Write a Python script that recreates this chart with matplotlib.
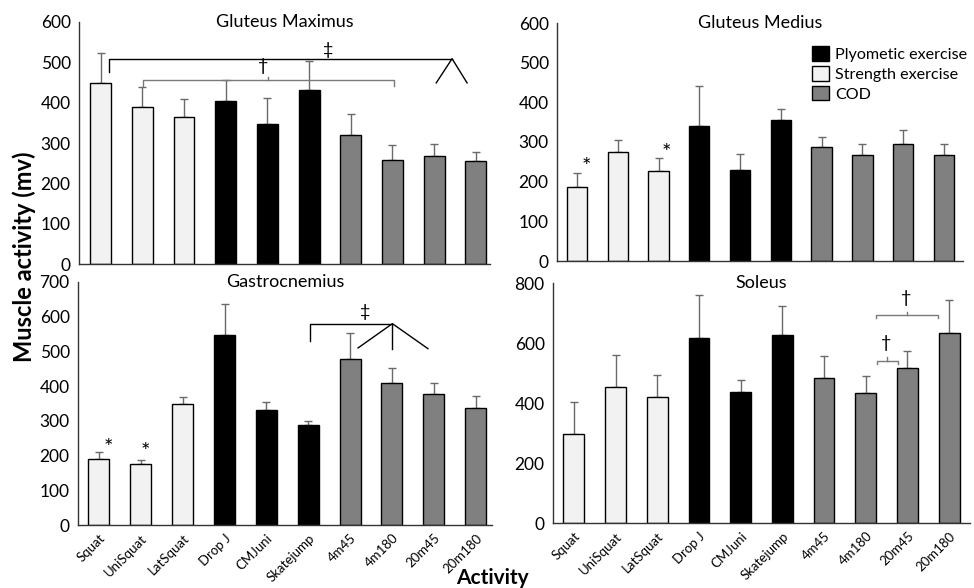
import matplotlib
matplotlib.use('Agg')
import matplotlib.pyplot as plt
import matplotlib.patches as mpatches
import numpy as np

plt.rcParams['font.family'] = ['Lato', 'DejaVu Sans']

activities = ['Squat', 'UniSquat', 'LatSquat', 'Drop J', 'CMJuni', 'Skatejump',
              '4m45', '4m180', '20m45', '20m180']
groups = ['S', 'S', 'S', 'P', 'P', 'P', 'C', 'C', 'C', 'C']
group_colors = {'P': '#000000', 'S': '#f2f2f2', 'C': '#808080'}
group_names = {'P': 'Plyometic exercise', 'S': 'Strength exercise', 'C': 'COD'}

# means and SD (upper error) per muscle
gmax_mean = [450, 389, 365, 403, 347, 432, 321, 258, 267, 255]
gmax_sd = [73, 49, 43, 53, 64, 72, 52, 36, 31, 23]
gmed_mean = [187, 274, 227, 340, 230, 356, 288, 268, 296, 268]
gmed_sd = [34, 31, 32, 102, 40, 27, 24, 27, 33, 26]
gast_mean = [189, 176, 350, 547, 331, 287, 479, 408, 377, 336]
gast_sd = [22, 12, 19, 91, 24, 12, 75, 43, 31, 35]
sol_mean = [298, 454, 421, 618, 437, 628, 483, 434, 516, 633]
sol_sd = [105, 107, 71, 143, 41, 94, 75, 55, 59, 111]

W, H = 974, 588
fig = plt.figure(figsize=(W / 100, H / 100), dpi=100)

def px_axes(l, t, r, b):
    return fig.add_axes([l / W, 1 - b / H, (r - l) / W, (b - t) / H])

ax_gmax = px_axes(79, 22, 490, 264)
ax_gmed = px_axes(557, 23, 963, 261)
ax_gast = px_axes(78, 282, 492, 525)
ax_sol = px_axes(553, 283, 970, 523)

panels = [
    (ax_gmax, gmax_mean, gmax_sd, 'Gluteus Maximus', 600, 100, (-0.52, 9.34), False),
    (ax_gmed, gmed_mean, gmed_sd, 'Gluteus Medius', 600, 100, (-0.49, 9.47), False),
    (ax_gast, gast_mean, gast_sd, 'Gastrocnemius', 700, 100, (-0.5, 9.39), True),
    (ax_sol, sol_mean, sol_sd, 'Soleus', 800, 200, (-0.5, 9.5), True),
]

x = np.arange(len(activities))
cols = [group_colors[g] for g in groups]
for ax, mean, sd, title, ymax, step, xl, show_x in panels:
    ax.bar(x, mean, 0.5, color=cols, edgecolor='black', linewidth=1.0, zorder=2)
    ax.errorbar(x, mean, yerr=[np.zeros(len(sd)), sd], fmt='none', ecolor='#6a6a6a',
                elinewidth=1.0, capsize=3, capthick=1.0, zorder=1)
    ax.set_ylim(0, ymax)
    ax.set_xlim(*xl)
    ax.set_yticks(np.arange(0, ymax + 1, step))
    for s in ['top', 'right']:
        ax.spines[s].set_visible(False)
    for s in ['left', 'bottom']:
        ax.spines[s].set_color('#333333')
        ax.spines[s].set_linewidth(1.0)
    ax.tick_params(length=0, labelsize=12.5, colors='black', pad=6)
    ax.set_xticks(x)
    if show_x:
        ax.set_xticklabels(activities, rotation=45, ha='right', rotation_mode='anchor',
                           fontsize=9.5)
        ax.tick_params(axis='x', pad=5)
    else:
        ax.set_xticklabels([])
    ax.text(0.5, 1.0, title, transform=ax.transAxes, ha='center', va='center',
            fontsize=13)

black = 'black'
grey = '#7a7a7a'
# Gluteus Maximus brackets
ax_gmax.plot([0.2, 0.2, 8.43], [475, 509, 509], color=black, lw=1)
ax_gmax.plot([8.05, 8.43, 8.79], [449, 509, 449], color=black, lw=1)
ax_gmax.text(5.45, 530, '\u2021', ha='center', va='center', fontsize=13)
ax_gmax.plot([1.02, 1.02, 7.04, 7.04], [442, 455, 455, 442], color=grey, lw=1)
ax_gmax.plot([4.02, 4.02], [455, 464], color=grey, lw=1)
ax_gmax.text(3.9, 490, '\u2020', ha='center', va='center', fontsize=13)

# Gluteus Medius stars
ax_gmed.text(0.22, 238, '*', ha='center', va='center', fontsize=16)
ax_gmed.text(2.2, 272, '*', ha='center', va='center', fontsize=16)

# Gastrocnemius
ax_gast.text(0.22, 222, '*', ha='center', va='center', fontsize=16)
ax_gast.text(1.12, 211, '*', ha='center', va='center', fontsize=16)
ax_gast.plot([5.05, 5.05, 7.01], [530, 580, 580], color=black, lw=1)
ax_gast.plot([6.19, 7.01, 7.86], [510, 580, 508], color=black, lw=1)
ax_gast.plot([7.01, 7.01], [580, 508], color=black, lw=1)
ax_gast.text(6.35, 614, '\u2021', ha='center', va='center', fontsize=13)

# Soleus brackets
ax_sol.plot([7.24, 7.24, 8.74, 8.74], [683, 694, 694, 683], color=grey, lw=1)
ax_sol.plot([7.98, 7.98], [694, 705], color=grey, lw=1)
ax_sol.text(7.97, 750, '\u2020', ha='center', va='center', fontsize=13)
ax_sol.plot([7.27, 7.27, 7.78, 7.78], [531, 541, 541, 531], color=grey, lw=1)
ax_sol.plot([7.51, 7.51], [541, 552], color=grey, lw=1)
ax_sol.text(7.5, 600, '\u2020', ha='center', va='center', fontsize=13)

# legend
handles = [mpatches.Patch(facecolor=group_colors[g], edgecolor='black', label=group_names[g])
           for g in ['P', 'S', 'C']]
fig.legend(handles=handles, loc='upper left', bbox_to_anchor=(806 / W, 1 - 40 / H),
           frameon=False, fontsize=11.6, handlelength=1.0, handleheight=1.0,
           handletextpad=0.4, labelspacing=0.25, borderaxespad=0)

fig.text(24 / W, 1 - 257 / H, 'Muscle activity (mv)', rotation=90, ha='center', va='center',
         fontsize=17, weight='bold')
fig.text(492 / W, 1 - 578 / H, 'Activity', ha='center', va='center', fontsize=15,
         weight='bold')

fig.savefig('out.png', dpi=100)
